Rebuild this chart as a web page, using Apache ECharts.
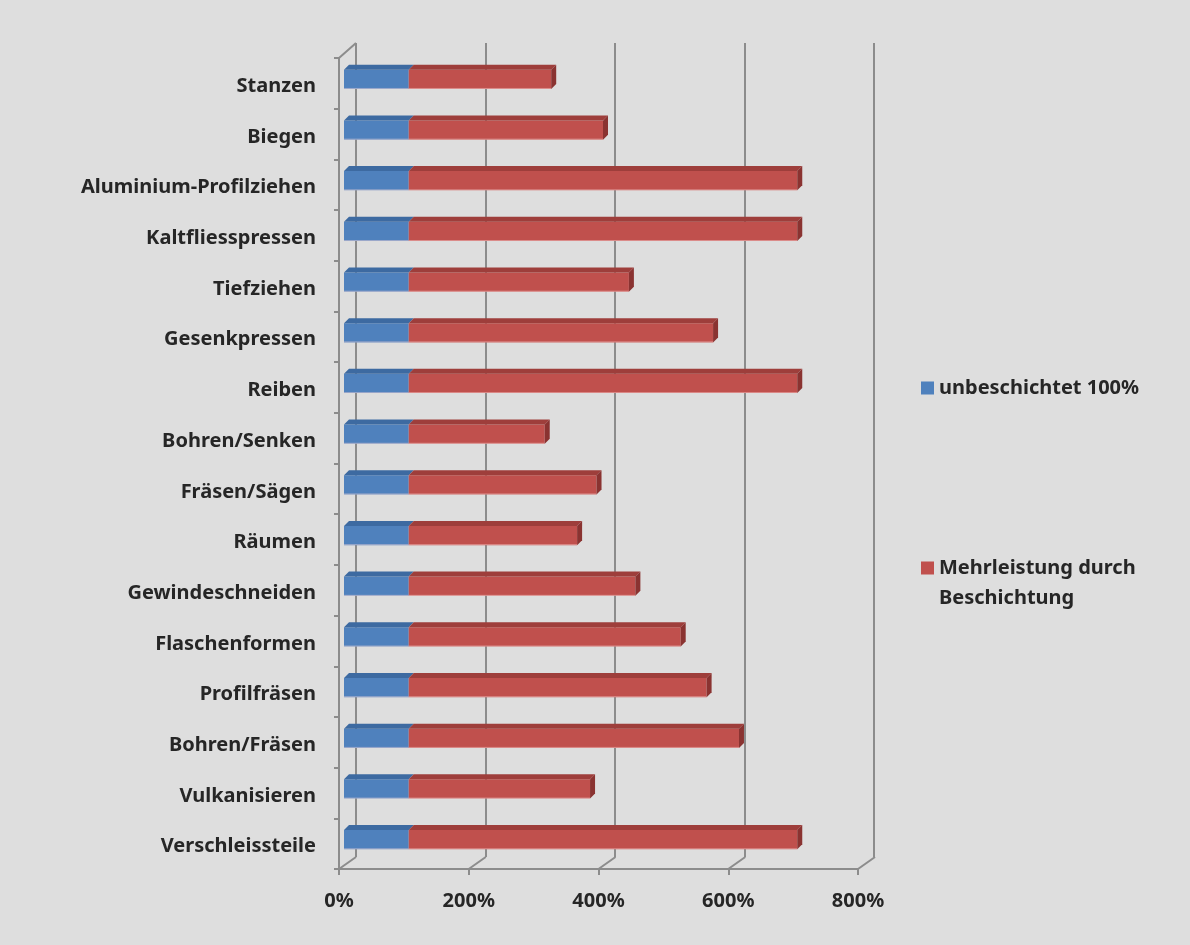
<!DOCTYPE html>
<html>
<head>
<meta charset="utf-8">
<script src="https://cdn.jsdelivr.net/npm/echarts@6/dist/echarts.min.js"></script>
<style>
html,body{margin:0;padding:0;background:#dedede;}
#c{width:1190px;height:945px;}
</style>
</head>
<body>
<div id="c"></div>
<script>
const categories = ['Stanzen','Biegen','Aluminium-Profilziehen','Kaltfliesspressen','Tiefziehen','Gesenkpressen','Reiben','Bohren/Senken','Fräsen/Sägen','Räumen','Gewindeschneiden','Flaschenformen','Profilfräsen','Bohren/Fräsen','Vulkanisieren','Verschleissteile'];
const baseValues = [100,100,100,100,100,100,100,100,100,100,100,100,100,100,100,100];
const extraValues = [220,300,600,600,340,470,600,210,290,260,350,420,460,510,280,600];
const xTicks = [0,200,400,600,800];
const seriesNames = ['unbeschichtet 100%','Mehrleistung durch Beschichtung'];

const FONT = '"Noto Sans", "DejaVu Sans", sans-serif';
const TXT = '#262626';
const LINE = '#8c8c8c';
const DEPTH = {dx: 17, dyTop: -15, dyBottom: -12};
const BAR = {dx: 5, dy: -5, ratio: 0.38};

const blueData = categories.map((c, i) => [i, 0, baseValues[i]]);
const redData = categories.map((c, i) => [i, baseValues[i], baseValues[i] + extraValues[i]]);

function bar3D(front, top, side, withSide) {
  return function (params, api) {
    const cat = api.value(0);
    const p0 = api.coord([api.value(1), cat]);
    const p1 = api.coord([api.value(2), cat]);
    const band = api.size([0, 1])[1];
    const h = band * BAR.ratio;
    const yT = p0[1] - h / 2, yB = p0[1] + h / 2;
    const x0 = p0[0], x1 = p1[0];
    const children = [
      {type: 'rect', shape: {x: x0, y: yT, width: x1 - x0, height: h}, style: {fill: front}},
      {type: 'line', shape: {x1: x0, y1: yB - 0.5, x2: x1, y2: yB - 0.5}, style: {stroke: 'rgba(255,220,220,0.45)', lineWidth: 1}},
      {type: 'polygon', shape: {points: [[x0, yT], [x1, yT], [x1 + BAR.dx, yT + BAR.dy], [x0 + BAR.dx, yT + BAR.dy]]}, style: {fill: top}}
    ];
    if (withSide) {
      children.push({type: 'polygon', shape: {points: [[x1, yT], [x1 + BAR.dx, yT + BAR.dy], [x1 + BAR.dx, yB + BAR.dy], [x1, yB]]}, style: {fill: side}});
    }
    return {type: 'group', children: children};
  };
}

function floorLines(params, api) {
  const cs = params.coordSys;
  const x = api.coord([api.value(0), 0])[0];
  const yb = cs.y + cs.height;
  const children = [
    {type: 'line', shape: {x1: x, y1: yb, x2: x + DEPTH.dx, y2: yb + DEPTH.dyBottom}, style: {stroke: LINE, lineWidth: 2}}
  ];
  if (params.dataIndex === 0) {
    children.push({type: 'line', shape: {x1: cs.x, y1: cs.y, x2: cs.x + DEPTH.dx, y2: cs.y + DEPTH.dyTop}, style: {stroke: LINE, lineWidth: 2}});
  }
  return {type: 'group', children: children};
}

const chart = echarts.init(document.getElementById('c'));
const labelStyle = {fontFamily: FONT, fontWeight: 'bold', fontSize: 20, color: TXT};

chart.setOption({
  backgroundColor: '#dedede',
  animation: false,
  grid: [
    {left: 356, right: 316, top: 43, bottom: 88, outerBoundsMode: 'none'},
    {left: 339, right: 332, top: 58, bottom: 76, outerBoundsMode: 'none'},
    {left: 344, right: 328, top: 54, bottom: 80, outerBoundsMode: 'none'}
  ],
  xAxis: [
    {gridIndex: 0, type: 'value', min: 0, max: 800, interval: 200,
     axisLine: {show: false}, axisTick: {show: false}, axisLabel: {show: false},
     splitLine: {show: true, lineStyle: {color: LINE, width: 2}}},
    {gridIndex: 1, type: 'value', min: 0, max: 800, interval: 200,
     axisLine: {show: true, lineStyle: {color: LINE, width: 2}},
     axisTick: {show: true, length: 6, lineStyle: {color: LINE, width: 2}},
     axisLabel: Object.assign({margin: 22, formatter: '{value}%'}, labelStyle),
     splitLine: {show: false}},
    {gridIndex: 2, type: 'value', min: 0, max: 800, show: false, splitLine: {show: false}}
  ],
  yAxis: [
    {gridIndex: 0, type: 'category', data: categories, inverse: true, show: false},
    {gridIndex: 1, type: 'category', data: categories, inverse: true,
     axisLine: {show: true, lineStyle: {color: LINE, width: 2}},
     axisTick: {show: true, length: 5, lineStyle: {color: LINE, width: 2}},
     axisLabel: Object.assign({margin: 23, formatter: v => '{a|' + v + '}',
       rich: {a: Object.assign({padding: [6, 0, 0, 0]}, labelStyle)}}, labelStyle),
     splitLine: {show: false}},
    {gridIndex: 2, type: 'category', data: categories, inverse: true, show: false}
  ],
  legend: [
    {data: [seriesNames[0]], orient: 'vertical', left: 921, top: 373, padding: 0,
     icon: 'rect', itemWidth: 13, itemHeight: 13, itemGap: 0, selectedMode: false,
     textStyle: Object.assign({lineHeight: 30}, labelStyle)},
    {data: [seriesNames[1]], orient: 'vertical', left: 921, top: 523, padding: 0,
     icon: 'rect', itemWidth: 13, itemHeight: 13, itemGap: 0, selectedMode: false,
     formatter: () => '\nMehrleistung durch\nBeschichtung',
     textStyle: Object.assign({lineHeight: 30}, labelStyle)}
  ],
  series: [
    {type: 'custom', name: 'floor', xAxisIndex: 1, yAxisIndex: 1, silent: true,
     data: xTicks.map(v => [v, 0]), encode: {x: 0, y: 1}, renderItem: floorLines, z: 1},
    {type: 'custom', name: seriesNames[0], xAxisIndex: 2, yAxisIndex: 2,
     itemStyle: {color: '#4f81bd'}, data: blueData, encode: {x: [1, 2], y: 0},
     renderItem: bar3D('#4f81bd', '#3d6aa1', '#3d6aa1', false), z: 3},
    {type: 'custom', name: seriesNames[1], xAxisIndex: 2, yAxisIndex: 2,
     itemStyle: {color: '#c0504d'}, data: redData, encode: {x: [1, 2], y: 0},
     renderItem: bar3D('#c0504d', '#9e3e3b', '#8a3331', true), z: 3}
  ]
});
</script>
</body>
</html>
